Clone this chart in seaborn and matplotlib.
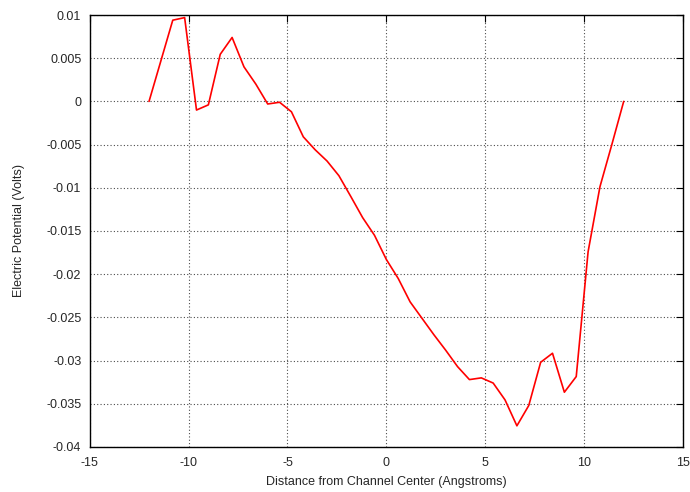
import pandas as pd
import matplotlib
matplotlib.use("Agg")
import matplotlib.pyplot as plt
import seaborn as sns

# Distance from channel centre (Angstroms) and potential (Volts)
distance = [-12.0, -10.8, -10.2, -9.6, -9.0, -8.4, -7.8, -7.2, -6.6, -6.0,
            -5.4, -4.8, -4.2, -3.6, -3.0, -2.4, -1.8, -1.2, -0.6, 0.0,
            0.6, 1.2, 1.8, 2.4, 3.0, 3.6, 4.2, 4.8, 5.4, 6.0,
            6.6, 7.2, 7.8, 8.4, 9.0, 9.6, 10.2, 10.8, 11.4, 12.0]
potential = [0.0, 0.0094, 0.0097, -0.0010, -0.0004, 0.00545, 0.0074, 0.0040, 0.0020, -0.0003,
             -0.0001, -0.0012, -0.0041, -0.0056, -0.0069, -0.0086, -0.0110, -0.01345, -0.0155, -0.0183,
             -0.0205, -0.0232, -0.0251, -0.0270, -0.0288, -0.0307, -0.0322, -0.0320, -0.0326, -0.03455,
             -0.03755, -0.0352, -0.0302, -0.02915, -0.03366, -0.03185, -0.0174, -0.00987, -0.0050, 0.0]
y_ticks = [-0.04, -0.035, -0.03, -0.025, -0.02, -0.015, -0.01, -0.005, 0, 0.005, 0.01]
y_labels = ["-0.04", "-0.035", "-0.03", "-0.025", "-0.02", "-0.015",
            "-0.01", "-0.005", "0", "0.005", "0.01"]

df = pd.DataFrame({"distance": distance, "potential": potential})

sns.set_style("white")
plt.rcParams['font.family'] = ['Liberation Sans', 'DejaVu Sans']
plt.rcParams['axes.unicode_minus'] = False

fig = plt.figure(figsize=(6.9, 4.92), dpi=100)
ax = fig.add_axes([0.1300, 0.0915, 0.8599, 0.878])

sns.lineplot(data=df, x="distance", y="potential", color="red", linewidth=1.2, ax=ax)

ax.set_xlim(-15, 15)
ax.set_ylim(-0.04, 0.01)
ax.set_xticks(range(-15, 16, 5))
ax.set_yticks(y_ticks)
ax.set_yticklabels(y_labels)
ax.set_xlabel("Distance from Channel Center (Angstroms)", fontsize=9)
ax.set_ylabel("Electric Potential (Volts)", fontsize=9)
ax.yaxis.set_label_coords(-0.109, 0.5)
ax.xaxis.set_label_coords(0.5, -0.068)

ax.grid(True, color="black", linestyle=(0, (1, 2)), linewidth=0.8, alpha=0.7)
ax.tick_params(direction="in", top=True, right=True, length=5, width=0.8,
               labelsize=9, color="black")
ax.tick_params(axis="x", pad=7)
ax.tick_params(axis="y", pad=6)
for s in ax.spines.values():
    s.set_color("black")
    s.set_linewidth(1.0)

fig.savefig("out.png", dpi=100)
